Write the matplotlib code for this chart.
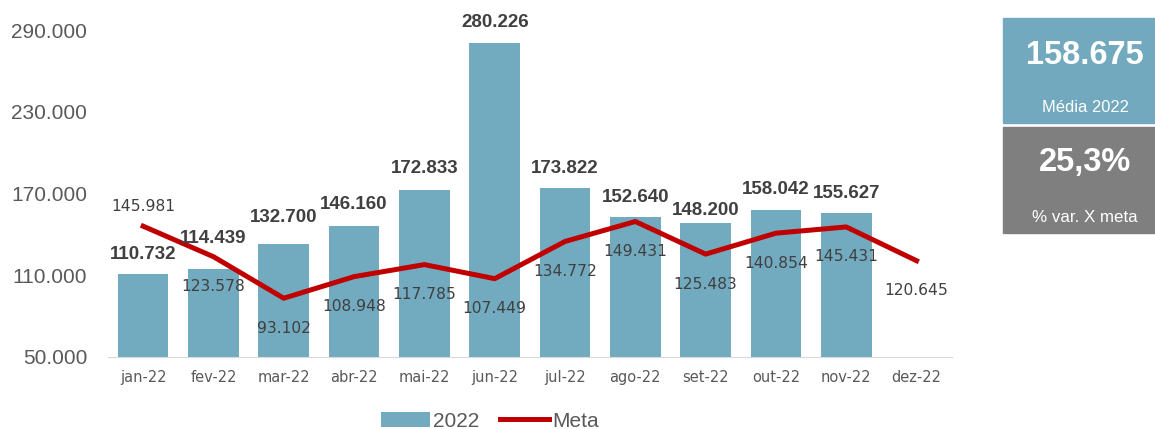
import numpy as np
from matplotlib import pyplot as plt
from matplotlib.patches import Rectangle

## monthly values and target
months = ['jan-22','fev-22','mar-22','abr-22','mai-22','jun-22','jul-22','ago-22','set-22','out-22','nov-22','dez-22']
real_2022 = [110732, 114439, 132700, 146160, 172833, 280226, 173822, 152640, 148200, 158042, 155627, np.nan]
meta = [145981, 123578, 93102, 108948, 117785, 107449, 134772, 149431, 125483, 140854, 145431, 120645]
yticks = [50000, 110000, 170000, 230000, 290000]

media_txt = '158.675'
var_txt = '25,3%'

## label offsets in points (bar labels above, meta labels below except jan)
bar_off = [14.4, 22.3, 19.4, 15.1, 15.1, 15.1, 14.4, 14.4, 9.4, 14.4, 14.4, 0]
meta_off = [14.4] + [-21.6] * 11

def fmt(v):
    return '{:,.0f}'.format(v).replace(',', '.')

bar_col = '#72AABF'
line_col = '#C00000'
txt_col = '#404040'

fig = plt.figure(figsize=(11.55, 4.29), dpi=100)
ax = fig.add_axes([0.0935, 0.168, 0.7305, 0.762])

x = np.arange(len(months))
bars = ax.bar(x, real_2022, width=0.72, color=bar_col, label='2022', zorder=2)
ln, = ax.plot(x, meta, color=line_col, lw=3.6, label='Meta', zorder=3)

for i, v in enumerate(real_2022):
    if np.isnan(v):
        continue
    ax.annotate(fmt(v), (x[i], v), xytext=(0, bar_off[i]), textcoords='offset points',
                ha='center', va='center', fontsize=13.5, fontweight='bold', color=txt_col,
                family='Liberation Sans', annotation_clip=False, zorder=4)
for i, v in enumerate(meta):
    ax.annotate(fmt(v), (x[i], v), xytext=(0, meta_off[i]), textcoords='offset points',
                ha='center', va='center', fontsize=11.2, color=txt_col,
                family='DejaVu Sans', annotation_clip=False, zorder=4)

ax.set_xlim(-0.5, 11.5)
ax.set_ylim(50000, 290000)
ax.set_yticks(yticks)
ax.set_yticklabels([fmt(t) for t in yticks], fontsize=15, color='#595959', family='Liberation Sans')
ax.set_xticks(x)
ax.set_xticklabels(months, fontsize=10.5, color='#595959')
ax.tick_params(axis='both', length=0)
ax.tick_params(axis='y', pad=15)
ax.tick_params(axis='x', pad=9.5)
for s in ['top', 'right', 'left']:
    ax.spines[s].set_visible(False)
ax.spines['bottom'].set_color('#D9D9D9')

leg = ax.legend([bars, ln], ['2022', 'Meta'], loc='center', bbox_to_anchor=(0.453, -0.196), ncol=2,
                frameon=False, prop={'family': 'Liberation Sans', 'size': 15}, handlelength=2.35,
                handletextpad=0.15, columnspacing=1.0)
for t in leg.get_texts():
    t.set_color('#595959')

## summary boxes at the right
fig.patches.append(Rectangle((1003/1155, 1-123/429), 152/1155, 105/429, transform=fig.transFigure,
                             color='#72A9BE', zorder=0))
fig.patches.append(Rectangle((1003/1155, 1-233/429), 152/1155, 106/429, transform=fig.transFigure,
                             color='#7F7F7F', zorder=0))
fig.text(1085/1155, 1-55/429, media_txt, ha='center', va='center', fontsize=23.5, fontweight='bold',
         color='white', family='Liberation Sans')
fig.text(1085/1155, 1-108/429, 'Média 2022', ha='center', va='center', fontsize=11.9,
         color='white', family='Liberation Sans')
fig.text(1085/1155, 1-163/429, var_txt, ha='center', va='center', fontsize=23.5, fontweight='bold',
         color='white', family='Liberation Sans')
fig.text(1085/1155, 1-218/429, '% var. X meta', ha='center', va='center', fontsize=12.2,
         color='white', family='Liberation Sans')

fig.savefig('out.png', dpi=100)
